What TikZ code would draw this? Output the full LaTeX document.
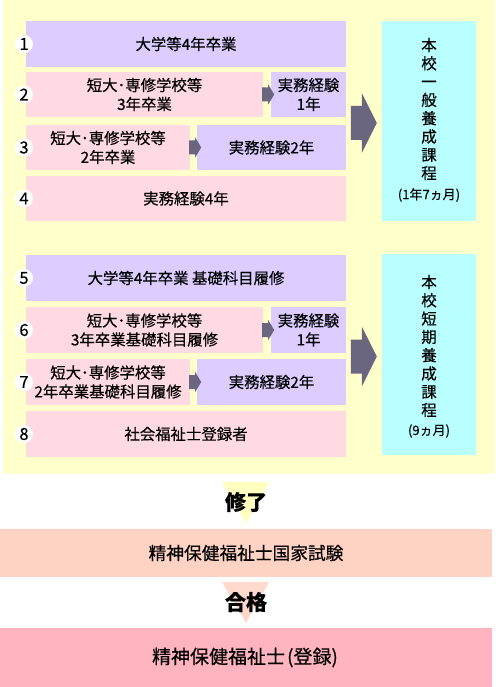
\documentclass[tikz,border=0pt]{standalone}
\usepackage{fontspec}
\setmainfont{Noto Sans CJK JP}[FakeBold=0.35]
\usetikzlibrary{calc}
\definecolor{bgy}{HTML}{FFFFCC}
\definecolor{lav}{HTML}{DDCCFF}
\definecolor{pnk}{HTML}{FFDAE2}
\definecolor{cya}{HTML}{B9FFFF}
\definecolor{arrc}{HTML}{6B6680}
\definecolor{peach}{HTML}{FFD3C3}
\definecolor{regp}{HTML}{FFB4C0}
\definecolor{tria}{HTML}{FFFFC0}
\definecolor{trib}{HTML}{FFDACC}
\begin{document}
\begin{tikzpicture}[x=1pt,y=-1pt,
  box/.style={inner sep=0pt, align=center, font=\fontsize{15.4}{19}\selectfont},
  pu/.style={box, fill=lav},
  pk/.style={box, fill=pnk},
  cy/.style={inner sep=0pt, fill=cya, minimum width=94pt},
  vtext/.style={inner sep=0pt, align=center, font=\fontsize{15.5}{18.3}\selectfont},
  ptext/.style={inner sep=0pt, font=\fontsize{13}{13}\selectfont},
  num/.style={circle, fill=white, inner sep=0pt, minimum size=18pt, font=\fontsize{16.5}{16.5}\selectfont},
  arr/.style={fill=arrc},
  lbl/.style={inner sep=0pt, font=\bfseries\fontsize{21}{21}\selectfont},
  wide/.style={inner sep=0pt, minimum width=492pt}
]
\useasboundingbox (0,0) rectangle (495,687);
\fill[bgy] (3,0) rectangle (495,474);

% section 1
\node[pu, minimum width=320pt, minimum height=46pt] (b1) at (186,44) {大学等4年卒業};
\node[pk, minimum width=237pt, minimum height=45pt] (b2a) at (144.5,94.5) {短大･専修学校等\\3年卒業};
\node[pu, minimum width=75pt, minimum height=45pt] (b2b) at (308.5,94.5) {実務経験\\1年};
\node[pk, minimum width=164pt, minimum height=45pt] (b3a) at (108,147.5) {短大･専修学校等\\2年卒業};
\node[pu, minimum width=149pt, minimum height=45pt] (b3b) at (271.5,147.5) {実務経験2年};
\node[pk, minimum width=320pt, minimum height=45pt] (b4) at (186,198.5) {実務経験4年};
\node[cy, minimum height=200pt] (c1) at (429,121) {};
\node[vtext] (v1) at (429,109) {本\\校\\一\\般\\養\\成\\課\\程};
\node[ptext] (p1) at (429,195) {(1年7ヵ月)};

% section 2
\node[pu, minimum width=320pt, minimum height=46pt] (b5) at (186,278) {大学等4年卒業 基礎科目履修};
\node[pk, minimum width=237pt, minimum height=46pt] (b6a) at (144.5,330) {短大･専修学校等\\3年卒業基礎科目履修};
\node[pu, minimum width=75pt, minimum height=46pt] (b6b) at (308.5,330) {実務経験\\1年};
\node[pk, minimum width=164pt, minimum height=46pt] (b7a) at (108,382) {短大･専修学校等\\2年卒業基礎科目履修};
\node[pu, minimum width=149pt, minimum height=46pt] (b7b) at (271.5,382) {実務経験2年};
\node[pk, minimum width=320pt, minimum height=46pt] (b8) at (186,434) {社会福祉士登録者};
\node[cy, minimum height=201pt] (c2) at (429,354.5) {};
\node[vtext] (v2) at (429,346) {本\\校\\短\\期\\養\\成\\課\\程};
\node[ptext] (p2) at (429,431) {(9ヵ月)};

% number circles
\foreach \n/\yy in {1/44,2/94.5,3/147.5,4/198.5,5/278,6/330,7/382,8/434}
  \node[num] (n\n) at (24,\yy) {\n};

% small arrows
\foreach \b in {b2a,b3a,b6a,b7a}
  \fill[arr] ($(\b.east)+(-1,-7)$) -- ++(6,0) -- ++(0,-3) -- ++(6,10) -- ++(-6,10) -- ++(0,-3) -- ++(-6,0) -- cycle;

% big arrows
\foreach \c in {c1,c2}
  \fill[arr] ($(\c.west)+(-31,-15)$) -- ++(11,0) -- ++(0,-13) -- ++(15,30) -- ++(-15,30) -- ++(0,-13) -- ++(-11,0) -- cycle;

% bottom
\fill[tria] (222,482) -- (269,482) -- (246,523) -- cycle;
\node[lbl] (s1) at (246,502) {修了};
\node[wide, fill=peach, minimum height=48pt, font=\fontsize{17.7}{17.7}\selectfont] (exam) at (246,553) {精神保健福祉士国家試験};
\fill[trib] (222,582) -- (269,582) -- (246,623) -- cycle;
\node[lbl] (s2) at (246,602) {合格};
\node[wide, fill=regp, minimum height=59pt, font=\fontsize{19}{19}\selectfont] (reg) at (246,657.5) {精神保健福祉士\kern2pt(登録)\kern2pt};
\end{tikzpicture}
\end{document}
